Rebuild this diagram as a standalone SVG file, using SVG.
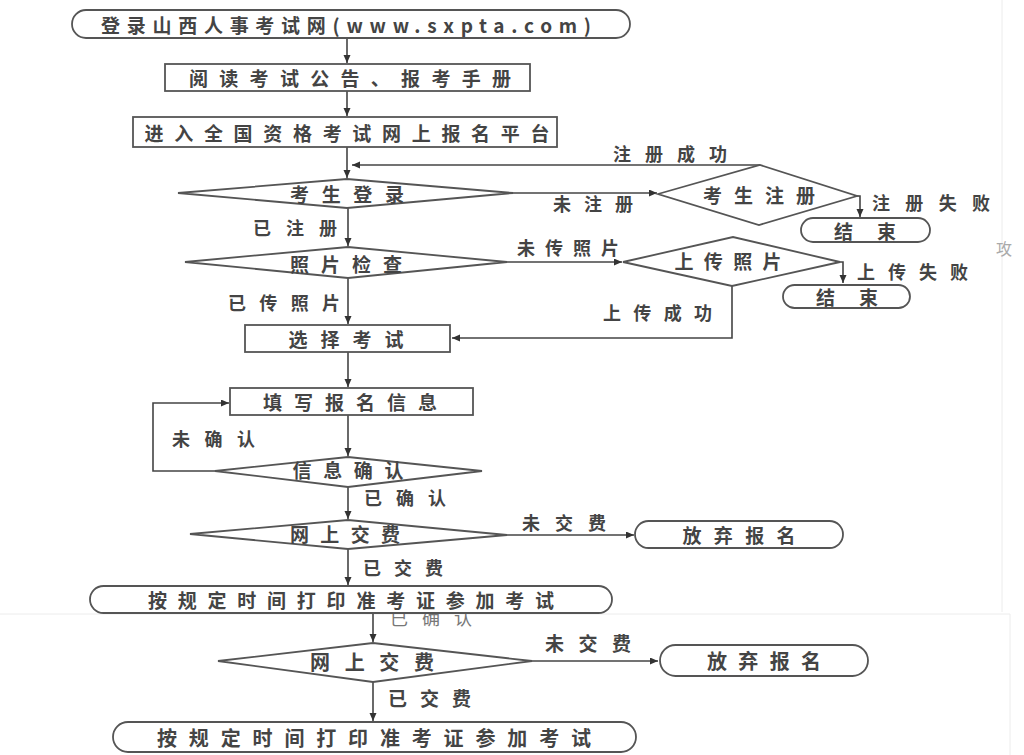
<svg xmlns="http://www.w3.org/2000/svg" width="1024" height="755" viewBox="0 0 1024 755">
<defs>
<marker id="ah" markerUnits="userSpaceOnUse" markerWidth="9" markerHeight="8" refX="8" refY="3.5" orient="auto">
<path d="M0,0 L8,3.5 L0,7 z" fill="#333"/>
</marker>
<clipPath id="clipLbl"><rect x="360" y="614" width="140" height="20"/></clipPath>
<style>
.shape{fill:#fff;stroke:#555;stroke-width:1.8}
.arr{fill:none;stroke:#444;stroke-width:1.6;marker-end:url(#ah)}
.t{font-family:"Noto Sans CJK SC","Noto Sans",sans-serif;font-size:19px;font-weight:bold;fill:#444;text-anchor:middle;dominant-baseline:central}
.l{font-family:"Noto Sans CJK SC","Noto Sans",sans-serif;font-size:18px;font-weight:bold;fill:#444;text-anchor:start;dominant-baseline:central}
.faint{fill:none;stroke:#ececec;stroke-width:1}
</style>
</defs>
<rect width="1024" height="755" fill="#fff"/>
<g id="background">
<line class="faint" x1="1002" y1="0" x2="1002" y2="612"/>
<line class="faint" x1="0" y1="614" x2="1010" y2="614"/>
<line class="faint" x1="1010" y1="614" x2="1010" y2="755"/>
<text x="1004" y="248" font-family="Noto Sans CJK SC, sans-serif" font-size="16" fill="#aaa" text-anchor="middle" dominant-baseline="central">攻</text>
</g>
<g id="connectors">
<line class="arr" x1="347" y1="38" x2="347" y2="63"/>
<line class="arr" x1="347" y1="91" x2="347" y2="116"/>
<line class="arr" x1="347" y1="147" x2="347" y2="178"/>
<path class="arr" d="M760,165 H352"/>
<line class="arr" x1="513" y1="193" x2="657" y2="193"/>
<path class="arr" d="M857,196 H860 V217"/>
<line class="arr" x1="348" y1="208" x2="348" y2="246"/>
<line class="arr" x1="507" y1="262" x2="622" y2="262"/>
<path class="arr" d="M840,262 H843 V283"/>
<path class="arr" d="M732,286 V338 H452"/>
<line class="arr" x1="348" y1="278" x2="348" y2="324"/>
<line class="arr" x1="348" y1="352" x2="348" y2="387"/>
<line class="arr" x1="348" y1="415" x2="348" y2="456"/>
<path class="arr" d="M215,471 H153 V403 H229"/>
<line class="arr" x1="348" y1="487" x2="348" y2="519"/>
<line class="arr" x1="507" y1="535" x2="634" y2="535"/>
<line class="arr" x1="348" y1="549" x2="348" y2="585"/>
<line class="arr" x1="373" y1="614" x2="373" y2="642"/>
<line class="arr" x1="532" y1="661" x2="658" y2="661"/>
<line class="arr" x1="373" y1="682" x2="373" y2="721"/>
</g>
<g id="labels">
<text class="l" x="613" y="153" textLength="114" lengthAdjust="spacing">注册成功</text>
<text class="l" x="553" y="203" textLength="80" lengthAdjust="spacing">未注册</text>
<text class="l" x="872" y="202" textLength="118" lengthAdjust="spacing">注册失败</text>
<text class="l" x="253" y="227" textLength="84" lengthAdjust="spacing">已注册</text>
<text class="l" x="517" y="247" textLength="102" lengthAdjust="spacing">未传照片</text>
<text class="l" x="857" y="271" textLength="111" lengthAdjust="spacing">上传失败</text>
<text class="l" x="228" y="302" textLength="112" lengthAdjust="spacing">已传照片</text>
<text class="l" x="603" y="312" textLength="109" lengthAdjust="spacing">上传成功</text>
<text class="l" x="172" y="438" textLength="83" lengthAdjust="spacing">未确认</text>
<text class="l" x="364" y="497" textLength="82" lengthAdjust="spacing">已确认</text>
<text class="l" x="522" y="522" textLength="84" lengthAdjust="spacing">未交费</text>
<text class="l" x="363" y="567" textLength="80" lengthAdjust="spacing">已交费</text>
<text class="l" x="390" y="617" textLength="82" lengthAdjust="spacing" clip-path="url(#clipLbl)" style="font-weight:normal;fill:#777">已确认</text>
<text class="l" x="545" y="642" textLength="86" lengthAdjust="spacing" style="font-size:19px">未交费</text>
<text class="l" x="388" y="697" textLength="83" lengthAdjust="spacing" style="font-size:19px">已交费</text>
</g>
<g id="n-start">
<rect class="shape" x="72" y="10" width="558" height="28" rx="14"/>
<text class="t" x="346" y="24" textLength="490" lengthAdjust="spacing">登录山西人事考试网(www.sxpta.com)</text>
</g>
<g id="n-read">
<rect class="shape" x="165" y="64" width="365" height="27"/>
<text class="t" x="350" y="77.5" textLength="322" lengthAdjust="spacing">阅读考试公告、报考手册</text>
</g>
<g id="n-platform">
<rect class="shape" x="133" y="117" width="424" height="30"/>
<text class="t" x="347" y="132" textLength="405" lengthAdjust="spacing">进入全国资格考试网上报名平台</text>
</g>
<g id="n-login">
<polygon class="shape" points="178,193 347,179 513,193 347,208"/>
<text class="t" x="347" y="193" textLength="114" lengthAdjust="spacing">考生登录</text>
</g>
<g id="n-register">
<polygon class="shape" points="658,194 760,165 857,196 759,225"/>
<text class="t" x="759" y="194" textLength="112" lengthAdjust="spacing">考生注册</text>
</g>
<g id="n-end1">
<rect class="shape" x="801" y="218" width="129" height="24" rx="12"/>
<text class="t" x="865" y="230" textLength="62" lengthAdjust="spacing">结束</text>
</g>
<g id="n-photo">
<polygon class="shape" points="185,262 348,247 507,262 348,278"/>
<text class="t" x="346" y="263" textLength="112" lengthAdjust="spacing">照片检查</text>
</g>
<g id="n-upload">
<polygon class="shape" points="623,262 733,237 840,262 732,286"/>
<text class="t" x="728" y="260" textLength="107" lengthAdjust="spacing">上传照片</text>
</g>
<g id="n-end2">
<rect class="shape" x="783" y="285" width="127" height="23" rx="11.5"/>
<text class="t" x="847" y="296.5" textLength="62" lengthAdjust="spacing">结束</text>
</g>
<g id="n-select">
<rect class="shape" x="245" y="325" width="205" height="27"/>
<text class="t" x="346" y="338.5" textLength="115" lengthAdjust="spacing">选择考试</text>
</g>
<g id="n-fill">
<rect class="shape" x="230" y="388" width="243" height="27"/>
<text class="t" x="350" y="401.5" textLength="174" lengthAdjust="spacing">填写报名信息</text>
</g>
<g id="n-confirm">
<polygon class="shape" points="215,471 348,457 482,471 348,487"/>
<text class="t" x="348" y="469" textLength="111" lengthAdjust="spacing">信息确认</text>
</g>
<g id="n-pay">
<polygon class="shape" points="190,534 348,520 507,535 348,549"/>
<text class="t" x="345" y="533" textLength="110" lengthAdjust="spacing">网上交费</text>
</g>
<g id="n-quit">
<rect class="shape" x="635" y="521" width="208" height="27" rx="13.5"/>
<text class="t" x="739" y="534.5" textLength="113" lengthAdjust="spacing">放弃报名</text>
</g>
<g id="n-print">
<rect class="shape" x="90" y="586" width="522" height="27" rx="13.5"/>
<text class="t" x="351" y="599" textLength="406" lengthAdjust="spacing">按规定时间打印准考证参加考试</text>
</g>
<g id="n-pay2">
<polygon class="shape" points="218,661 373,643 532,661 373,682"/>
<text class="t" x="372" y="661" textLength="124" lengthAdjust="spacing" style="font-size:20px">网上交费</text>
</g>
<g id="n-quit2">
<rect class="shape" x="660" y="645" width="208" height="31" rx="15.5"/>
<text class="t" x="764" y="660.5" textLength="114" lengthAdjust="spacing" style="font-size:20px">放弃报名</text>
</g>
<g id="n-print2">
<rect class="shape" x="113" y="722" width="523" height="30" rx="15"/>
<text class="t" x="374" y="737" textLength="434" lengthAdjust="spacing" style="font-size:20px">按规定时间打印准考证参加考试</text>
</g>
</svg>
